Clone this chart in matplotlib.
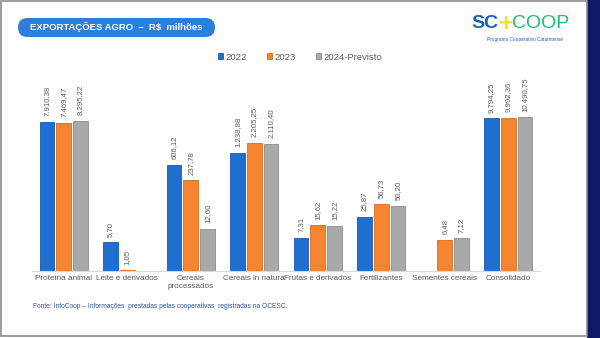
import numpy as np
import matplotlib
matplotlib.use("Agg")
import matplotlib.pyplot as plt
from matplotlib.patches import FancyBboxPatch, Rectangle

plt.rcParams['font.family'] = ['Liberation Sans', 'DejaVu Sans']

categorias = ["Proteína animal", "Leite e derivados", "Cereais\nprocessados",
              "Cereais in natura", "Frutas e derivados", "Fertilizantes",
              "Sementes cereais", "Consolidado"]
v2022 = [7910.38, 5.70, 606.12, 1238.88, 7.31, 25.87, np.nan, 9794.25]
v2023 = [7469.47, 1.05, 237.78, 2205.25, 15.62, 56.73, 6.48, 9992.36]
v2024 = [8295.22, np.nan, 12.60, 2110.40, 15.22, 50.20, 7.12, 10490.75]
rotulos = ["2022", "2023", "2024-Previsto"]

cores = ["#1E6FD0", "#F7842F", "#A9A9A9"]
bordas = ["#1659AD", "#D96A1C", "#8C8C8C"]


def fmt_br(v):
    s = f"{v:,.2f}"
    return s.replace(",", "X").replace(".", ",").replace("X", ".")


fig = plt.figure(figsize=(6, 3.38), dpi=100)
fig.patch.set_facecolor("white")

ax = fig.add_axes([32 / 600, 67 / 338, 508 / 600, 186 / 338])
x = np.arange(len(categorias))
w = 0.23
off = 0.265
for i, (vals, lab) in enumerate(zip([v2022, v2023, v2024], rotulos)):
    pos = x + (i - 1) * off
    ax.bar(pos, vals, w, color=cores[i], edgecolor=bordas[i],
           linewidth=0.6, label=lab)
    for xp, v in zip(pos, vals):
        if np.isnan(v):
            continue
        ax.annotate(fmt_br(v), (xp, v), xytext=(0, 4), textcoords="offset points",
                    rotation=90, ha="center", va="bottom", fontsize=5.6,
                    color="#595959")

ax.set_yscale("log")
ax.set_ylim(1, 10 ** 4.86)
ax.set_xlim(-0.5, len(categorias) - 0.5)
ax.set_yticks([])
ax.yaxis.set_minor_locator(matplotlib.ticker.NullLocator())
ax.set_xticks(x)
ax.set_xticklabels(categorias, fontsize=5.9, color="#595959", linespacing=1.1)
ax.tick_params(axis="x", length=0, pad=3)
for s in ["top", "right", "left"]:
    ax.spines[s].set_visible(False)
ax.spines["bottom"].set_color("#D9D9D9")
ax.spines["bottom"].set_linewidth(0.8)

fig.legend(loc="center", bbox_to_anchor=(0.5, 1 - 57 / 338), ncol=3,
           frameon=False, fontsize=6.8, handlelength=0.55, handleheight=0.55,
           handletextpad=0.2, columnspacing=2.2, labelcolor="#595959")

# faixa do título
pill = FancyBboxPatch((18 / 600, 1 - 37 / 338), 197 / 600, 19 / 338,
                      boxstyle="round,pad=0,rounding_size=%f" % (9.5 / 600),
                      transform=fig.transFigure, facecolor="#2F7FD8",
                      edgecolor="none", mutation_aspect=600 / 338)
fig.patches.append(pill)
fig.text(116 / 600, 1 - 27.5 / 338, "EXPORTAÇÕES AGRO  –  R$  milhões",
         ha="center", va="center", fontsize=6.8, fontweight="bold", color="white")

# logo
fig.text(499 / 600, 1 - 24 / 338, "SC", ha="right", va="center", fontsize=14,
         fontweight="bold", color="#1F5FB8")
fig.text(506 / 600, 1 - 24 / 338, "+", ha="center", va="center", fontsize=18,
         fontweight="bold", color="#F2E21A")
fig.text(512 / 600, 1 - 24 / 338, "COOP", ha="left", va="center", fontsize=14,
         color="#1DBF73")
fig.text(525 / 600, 1 - 39 / 338, "Programa Cooperativo Catarinense", ha="center",
         va="center", fontsize=3.4, color="#1F5FB8")

# fonte
fig.text(33 / 600, 1 - 306 / 338,
         "Fonte: InfoCoop – Informações  prestadas pelas cooperativas  registradas na OCESC.",
         ha="left", va="center", fontsize=4.8, color="#2F5597")

# moldura e faixa lateral
fig.patches.append(Rectangle((587 / 600, 0), 13 / 600, 1, transform=fig.transFigure,
                             facecolor="#0E1A66", edgecolor="none"))
fig.patches.append(Rectangle((0.5 / 600, 2 / 338), 586 / 600, 335 / 338,
                             transform=fig.transFigure, facecolor="none",
                             edgecolor="#8C8C8C", linewidth=1.2))

fig.savefig("out.png", dpi=100)
